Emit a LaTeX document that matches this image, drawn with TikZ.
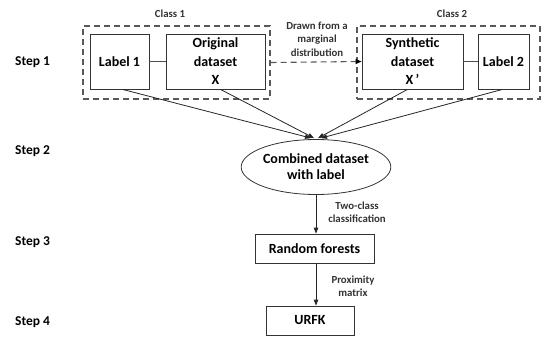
\documentclass[tikz,border=0pt]{standalone}
\usepackage{fontspec}
\setmainfont{Carlito}
\usetikzlibrary{arrows.meta,shapes.geometric}
\tikzset{
  box/.style={draw=black!80, line width=0.8pt, fill=white, align=center,
    inner sep=0pt, font=\bfseries\fontsize{14}{18.5}\selectfont},
  group/.style={draw=black!65, line width=1.1pt, dash pattern=on 6pt off 4pt,
    inner sep=0pt},
  small/.style={font=\bfseries\fontsize{10.8}{13.5}\selectfont, text=black!80, align=center},
  steplabel/.style={font=\bfseries\fontsize{13.5}{15}\selectfont, anchor=west, inner sep=0pt},
  link/.style={draw=black!70, line width=0.8pt},
  flow/.style={draw=black!85, line width=0.8pt, -{Triangle[length=6pt,width=4.5pt]}},
}
\begin{document}
\begin{tikzpicture}[x=1pt,y=-1pt]
  \useasboundingbox (0,0) rectangle (545,337);

  % step captions
  \node[steplabel] (s1) at (15,62) {Step 1};
  \node[steplabel] (s2) at (15,151) {Step 2};
  \node[steplabel] (s3) at (15,242) {Step 3};
  \node[steplabel] (s4) at (15,322) {Step 4};

  % class groups
  \node[group, minimum width=187pt, minimum height=73pt] (c1) at (176.5,62.5) {};
  \node[group, minimum width=183pt, minimum height=73pt] (c2) at (448.5,62.5) {};
  \node[small] (c1t) at (170,14) {Class 1};
  \node[small] (c2t) at (452,14) {Class 2};

  % boxes of step 1
  \node[box, minimum width=59pt, minimum height=55pt] (l1) at (119.5,61.5) {Label 1};
  \node[box, minimum width=99pt, minimum height=55pt] (x) at (215.5,61.5) {Original\\dataset\\X};
  \node[box, minimum width=101pt, minimum height=55pt] (xs) at (412.5,61.5) {Synthetic\\dataset\\X\,’};
  \node[box, minimum width=51pt, minimum height=55pt] (l2) at (503.5,61.5) {Label 2};

  \draw[link] (l1) -- (x);
  \draw[link] (xs) -- (l2);

  % marginal sampling
  \draw[draw=black!65, line width=1.1pt, dash pattern=on 6pt off 4pt,
    -{Triangle[length=6pt,width=5pt,color=black,fill=black]}] (c1.east) -- (xs.west);
  \node[small] (dt) at (317,39) {Drawn from a\\marginal\\distribution};

  % combined dataset
  \node[draw=black!80, line width=0.8pt, ellipse, inner sep=0pt,
    minimum width=118pt, minimum height=55pt, align=center,
    font=\bfseries\fontsize{14}{16}\selectfont] (comb) at (316,167) {Combined dataset\\with label};

  \draw[flow] ([xshift=3pt]l1.south) -- ([xshift=-5pt,yshift=1pt]comb.north);
  \draw[flow] ([xshift=5pt]x.south) -- ([xshift=-2pt,yshift=1pt]comb.north);
  \draw[flow] ([xshift=-5pt]xs.south) -- ([xshift=2pt,yshift=1pt]comb.north);
  \draw[flow] ([xshift=-1pt]l2.south) -- ([xshift=5pt,yshift=1pt]comb.north);

  % classifier and kernel
  \node[box, minimum width=119pt, minimum height=29pt] (rf) at (314.5,248.5) {Random forests};
  \node[box, minimum width=88pt, minimum height=29pt] (urfk) at (310,320.5) {URFK};

  \draw[flow] (comb.south) -- (comb.south |- rf.north);
  \draw[flow] (comb.south |- rf.south) -- (comb.south |- urfk.north);

  \node[small] (tc) at (357,212) {Two-class\\classification};
  \node[small] (pm) at (353,286) {Proximity\\matrix};
\end{tikzpicture}
\end{document}
